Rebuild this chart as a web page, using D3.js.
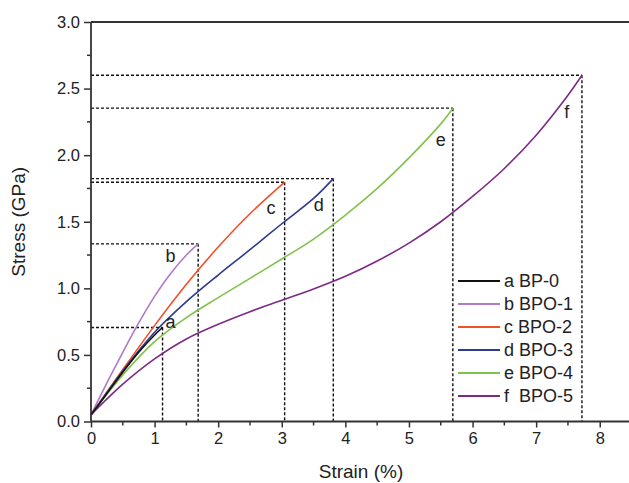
<!DOCTYPE html>
<html>
<head>
<meta charset="utf-8">
<script src="https://cdnjs.cloudflare.com/ajax/libs/d3/7.8.5/d3.min.js"></script>
<style>
  body { margin: 0; background: #fff; }
  text { font-family: Arial, "Liberation Sans", sans-serif; fill: #222; }
</style>
</head>
<body>
<div id="chart"></div>
<script>
const svgWidth = 629
const svgHeight = 483

// series: letter, name, [strain %, stress GPa]
const letters = ["a", "b", "c", "d", "e", "f"]
const names = ["BP-0", "BPO-1", "BPO-2", "BPO-3", "BPO-4", "BPO-5"]

const bp0 = [[0, 0.05], [0.25, 0.21], [0.5, 0.37], [0.75, 0.52], [1.0, 0.65], [1.125, 0.706]]
const bpo1 = [[0, 0.05], [0.25, 0.29], [0.5, 0.52], [0.75, 0.74], [1.0, 0.94], [1.25, 1.11], [1.5, 1.25], [1.685, 1.334]]
const bpo2 = [[0, 0.05], [0.5, 0.39], [1.0, 0.72], [1.5, 1.03], [2.0, 1.31], [2.5, 1.56], [3.045, 1.797]]
const bpo3 = [[0, 0.05], [0.5, 0.38], [1.0, 0.67], [1.5, 0.9], [2.0, 1.1], [2.5, 1.29], [3.0, 1.485], [3.5, 1.675], [3.81, 1.824]]
const bpo4 = [[0, 0.05], [0.5, 0.35], [1.0, 0.6], [1.5, 0.78], [2.0, 0.93], [2.5, 1.075], [3.0, 1.22], [3.5, 1.37], [4.0, 1.55], [4.5, 1.75], [5.0, 1.98], [5.5, 2.235], [5.69, 2.353]]
const bpo5 = [[0, 0.05], [0.5, 0.28], [1.0, 0.47], [1.5, 0.62], [2.0, 0.73], [2.5, 0.825], [3.0, 0.91], [3.5, 0.995], [4.0, 1.09], [4.5, 1.205], [5.0, 1.34], [5.5, 1.5], [6.0, 1.69], [6.5, 1.9], [7.0, 2.15], [7.5, 2.45], [7.72, 2.6]]

const xTicks = [0, 1, 2, 3, 4, 5, 6, 7, 8]
const yTicks = [0, 0.5, 1.0, 1.5, 2.0, 2.5, 3.0]

const series = [bp0, bpo1, bpo2, bpo3, bpo4, bpo5]
const colors = ["#111111", "#b07ac8", "#f0502a", "#2e3b8e", "#82c24a", "#7d2a86"]

let svg = d3
  .select("#chart")
  .append("svg")
  .attr("width", svgWidth)
  .attr("height", svgHeight)

let x = d3.scaleLinear().domain([0, 8.46]).range([91, 629])
let y = d3.scaleLinear().domain([0, 3]).range([421.5, 22])

// dashed guides from each curve end to the axes
let guides = svg.append("g")
  .attr("stroke", "#111")
  .attr("stroke-width", 1.4)
  .attr("stroke-dasharray", "3,2")
  .attr("fill", "none")

series.forEach(s => {
  let end = s[s.length - 1]
  guides.append("line")
    .attr("x1", x(0)).attr("x2", x(end[0]))
    .attr("y1", y(end[1])).attr("y2", y(end[1]))
  guides.append("line")
    .attr("x1", x(end[0])).attr("x2", x(end[0]))
    .attr("y1", y(end[1])).attr("y2", y(0))
})

let line = d3.line()
  .x(d => x(d[0]))
  .y(d => y(d[1]))
  .curve(d3.curveCatmullRom.alpha(0.5))

// draw black last so it sits over blue like in the figure
let order = [1, 2, 3, 4, 5, 0]
order.forEach(i => {
  svg.append("path")
    .datum(series[i])
    .attr("d", line)
    .attr("fill", "none")
    .attr("stroke", colors[i])
    .attr("stroke-width", 1.6)
})

// axes
let bottomAxis = d3.axisBottom(x).tickValues(xTicks).tickSize(6).tickPadding(5).tickFormat(d3.format("d"))
let leftAxis = d3.axisLeft(y).tickValues(yTicks).tickSize(7).tickPadding(4).tickFormat(d3.format(".1f"))

let xAxis = svg.append("g")
  .attr("transform", `translate(0, ${y(0)})`)
  .call(bottomAxis)

xAxis.selectAll("line.minor")
  .data(d3.range(0.5, 8.5, 1))
  .enter()
  .append("line")
  .attr("class", "minor")
  .attr("x1", d => x(d)).attr("x2", d => x(d))
  .attr("y1", 0).attr("y2", 4)
  .attr("stroke", "#333")
  .attr("stroke-width", 1.5)

let yAxis = svg.append("g")
  .attr("transform", `translate(${x(0)}, 0)`)
  .call(leftAxis)

yAxis.selectAll("line.minor")
  .data(d3.range(0.25, 3, 0.5))
  .enter()
  .append("line")
  .attr("class", "minor")
  .attr("y1", d => y(d)).attr("y2", d => y(d))
  .attr("x1", 0).attr("x2", -4)
  .attr("stroke", "#333")
  .attr("stroke-width", 1.5)

svg.selectAll(".domain").attr("stroke", "#333").attr("stroke-width", 1.8)
svg.selectAll(".tick line").attr("stroke", "#333").attr("stroke-width", 1.5)
svg.selectAll(".tick text").style("font-size", "16.5px").style("fill", "#222")
  .style("font-family", "Arial, 'Liberation Sans', sans-serif")

// remove outer tick ends of the domain paths
xAxis.select(".domain").attr("d", `M${x(0)},0H${svgWidth}`)
yAxis.select(".domain").attr("d", `M0,${y(0)}V${y(3)}`)

// top frame line
svg.append("line")
  .attr("x1", x(0)).attr("x2", svgWidth)
  .attr("y1", y(3)).attr("y2", y(3))
  .attr("stroke", "#333")
  .attr("stroke-width", 1.8)

// axis titles
svg.append("text")
  .attr("x", 361)
  .attr("y", 478)
  .attr("text-anchor", "middle")
  .style("font-size", "19px")
  .text("Strain (%)")

svg.append("text")
  .attr("transform", `translate(25, ${y(1.5)})rotate(-90)`)
  .attr("text-anchor", "middle")
  .style("font-size", "19px")
  .text("Stress (GPa)")

// curve letters
const letterPos = [[1.25, 0.7], [1.25, 1.2], [2.83, 1.56], [3.58, 1.58], [5.5, 2.07], [7.48, 2.28]]
letterPos.forEach((p, i) => {
  svg.append("text")
    .attr("x", x(p[0]))
    .attr("y", y(p[1]))
    .attr("text-anchor", "middle")
    .style("font-size", "18px")
    .text(letters[i])
})

// legend
let legend = svg.append("g")
names.forEach((n, i) => {
  let ly = 281 + i * 23
  legend.append("line")
    .attr("x1", 458).attr("x2", 500)
    .attr("y1", ly).attr("y2", ly)
    .attr("stroke", colors[i])
    .attr("stroke-width", 1.8)
  legend.append("text")
    .attr("x", 504)
    .attr("y", ly + 6)
    .attr("xml:space", "preserve")
    .style("font-size", "18px")
    .text(letters[i] + (letters[i] === "f" ? "  " : " ") + n)
})
</script>
</body>
</html>
